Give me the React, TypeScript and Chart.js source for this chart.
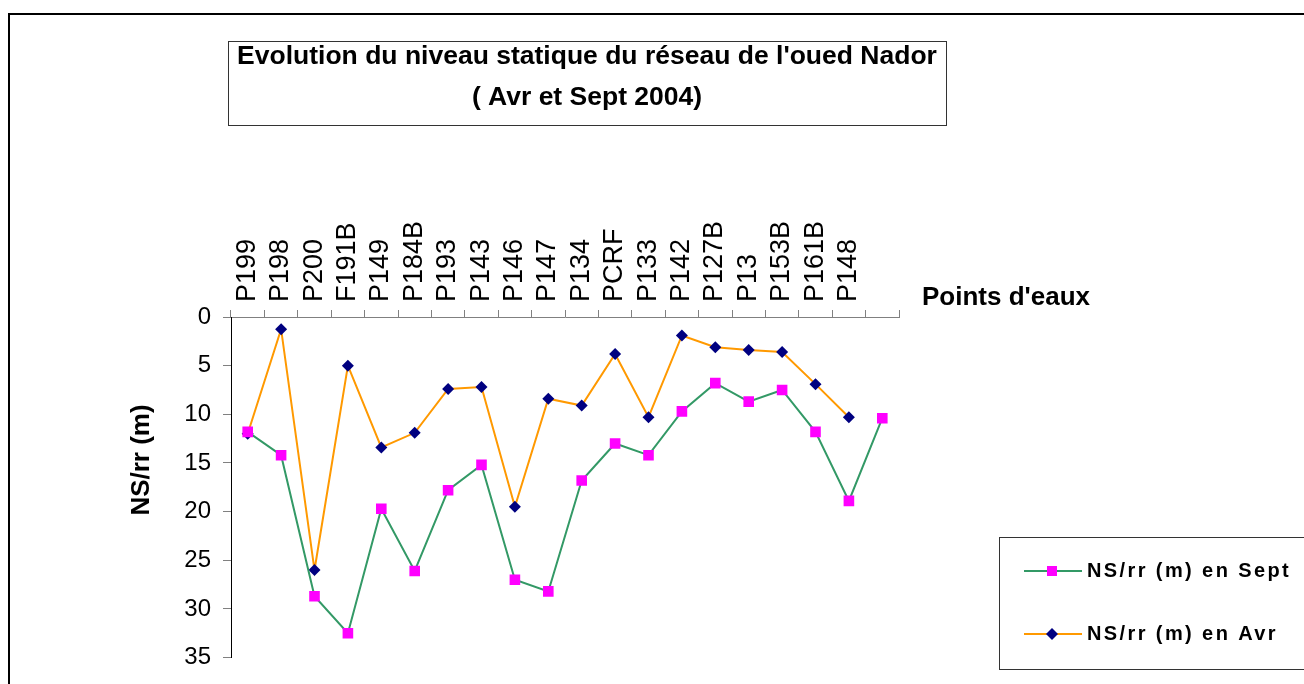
import { useEffect, useRef } from 'react';
import { Chart, registerables } from 'chart.js';

Chart.register(...registerables);

const categories = ['P199', 'P198', 'P200', 'F191B', 'P149', 'P184B', 'P193', 'P143', 'P146', 'P147', 'P134', 'PCRF', 'P133', 'P142', 'P127B', 'P13', 'P153B', 'P161B', 'P148', ''];
const septValues = [11.8, 14.2, 28.7, 32.5, 19.7, 26.1, 17.8, 15.2, 27.0, 28.2, 16.8, 13.0, 14.2, 9.7, 6.8, 8.7, 7.5, 11.8, 18.9, 10.4];
const avrValues = [12.0, 1.25, 26.0, 5.0, 13.4, 11.9, 7.4, 7.2, 19.5, 8.4, 9.1, 3.8, 10.3, 1.9, 3.1, 3.4, 3.6, 6.9, 10.3, null];
const seriesNames = ['NS/rr (m) en Sept', 'NS/rr (m) en Avr'];
const titleLines = ["Evolution du niveau statique du réseau de l'oued Nador", '( Avr et Sept 2004)'];
const xTitle = "Points d'eaux";
const yTitle = 'NS/rr (m)';
const yMin = 0;
const yMax = 35;
const yStep = 5;

const FONT = '"Liberation Sans", Arial, sans-serif';
const SEPT_LINE = '#339966';
const SEPT_MARK = '#FF00FF';
const AVR_LINE = '#FF9900';
const AVR_MARK = '#000080';

const decorPlugin = {
  id: 'decor',
  afterDraw(chart: any) {
    const ctx = chart.ctx as CanvasRenderingContext2D;
    ctx.save();
    // outer frame
    ctx.strokeStyle = '#000';
    ctx.lineWidth = 2;
    ctx.strokeRect(9, 14, 1400, 800);

    // title box
    ctx.lineWidth = 1;
    ctx.strokeStyle = '#333';
    ctx.strokeRect(228.5, 41.5, 718, 84);
    ctx.fillStyle = '#000';
    ctx.font = `bold 26.5px ${FONT}`;
    ctx.textAlign = 'center';
    ctx.textBaseline = 'middle';
    ctx.fillText(titleLines[0], 587, 57);
    ctx.fillText(titleLines[1], 587, 98);

    // x axis title
    ctx.font = `bold 26px ${FONT}`;
    ctx.textAlign = 'left';
    ctx.fillText(xTitle, 922, 298);

    // y axis title
    ctx.save();
    ctx.translate(142, 460);
    ctx.rotate(-Math.PI / 2);
    ctx.textAlign = 'center';
    ctx.fillText(yTitle, 0, 0);
    ctx.restore();

    // legend
    ctx.strokeStyle = '#333';
    ctx.lineWidth = 1;
    ctx.strokeRect(999.5, 537.5, 400, 132);
    const rows = [
      { y: 571, line: SEPT_LINE, mark: SEPT_MARK, shape: 'rect', label: seriesNames[0] },
      { y: 634, line: AVR_LINE, mark: AVR_MARK, shape: 'diamond', label: seriesNames[1] },
    ];
    for (const r of rows) {
      ctx.strokeStyle = r.line;
      ctx.lineWidth = 2;
      ctx.beginPath();
      ctx.moveTo(1024, r.y);
      ctx.lineTo(1082, r.y);
      ctx.stroke();
      ctx.fillStyle = r.mark;
      if (r.shape === 'rect') {
        ctx.fillRect(1047, r.y - 5, 10, 10);
      } else {
        ctx.beginPath();
        ctx.moveTo(1052, r.y - 6);
        ctx.lineTo(1058, r.y);
        ctx.lineTo(1052, r.y + 6);
        ctx.lineTo(1046, r.y);
        ctx.closePath();
        ctx.fill();
      }
      ctx.fillStyle = '#000';
      ctx.font = `bold 20px ${FONT}`;
      (ctx as any).letterSpacing = '2.4px';
      ctx.textAlign = 'left';
      ctx.textBaseline = 'middle';
      ctx.fillText(r.label, 1087, r.y);
      (ctx as any).letterSpacing = '0px';
    }
    ctx.restore();
  },
};

export default function App() {
  const ref = useRef<HTMLCanvasElement | null>(null);
  useEffect(() => {
    if (!ref.current) return;
    const chart = new Chart(ref.current, {
      type: 'line',
      data: {
        labels: categories,
        datasets: [
          {
            label: seriesNames[0],
            data: septValues,
            borderColor: SEPT_LINE,
            backgroundColor: SEPT_MARK,
            pointBackgroundColor: SEPT_MARK,
            pointBorderColor: SEPT_MARK,
            pointStyle: 'rect',
            pointRadius: 7.5,
            pointBorderWidth: 0,
            borderWidth: 2,
            tension: 0,
            spanGaps: false,
          },
          {
            label: seriesNames[1],
            data: avrValues,
            borderColor: AVR_LINE,
            backgroundColor: AVR_MARK,
            pointBackgroundColor: AVR_MARK,
            pointBorderColor: AVR_MARK,
            pointStyle: 'rectRot',
            pointRadius: 6,
            pointBorderWidth: 0,
            borderWidth: 2,
            tension: 0,
          },
        ],
      },
      options: {
        responsive: false,
        animation: false,
        devicePixelRatio: 1,
        layout: { padding: { left: 0, top: 0, right: 405, bottom: 22 } },
        plugins: {
          legend: { display: false },
          title: { display: false },
          tooltip: { enabled: false },
        },
        scales: {
          x: {
            type: 'category',
            position: 'top',
            offset: true,
            grid: {
              offset: true,
              drawOnChartArea: false,
              drawTicks: true,
              tickLength: 7,
              color: '#808080',
              lineWidth: 1,
            },
            border: { display: true, color: '#808080', width: 1 },
            ticks: {
              autoSkip: false,
              maxRotation: 90,
              minRotation: 90,
              padding: 8,
              labelOffset: 32,
              color: '#000',
              font: { family: FONT, size: 27 },
            },
            afterFit(scale: any) {
              scale.height = 317;
            },
          },
          y: {
            type: 'linear',
            reverse: true,
            min: yMin,
            max: yMax,
            grid: {
              drawOnChartArea: false,
              drawTicks: true,
              tickLength: 8,
              color: '#808080',
              lineWidth: 1,
            },
            border: { display: true, color: '#000', width: 1 },
            ticks: {
              stepSize: yStep,
              padding: 12,
              color: '#000',
              font: { family: FONT, size: 24 },
            },
            afterFit(scale: any) {
              scale.width = 231;
            },
          },
        },
      },
      plugins: [decorPlugin],
    });
    return () => chart.destroy();
  }, []);
  return (
    <div style={{ position: 'fixed', left: 0, top: 0, width: 1304, height: 684, overflow: 'hidden', background: '#fff' }}>
      <canvas ref={ref} width={1304} height={684} style={{ display: 'block' }} />
    </div>
  );
}
